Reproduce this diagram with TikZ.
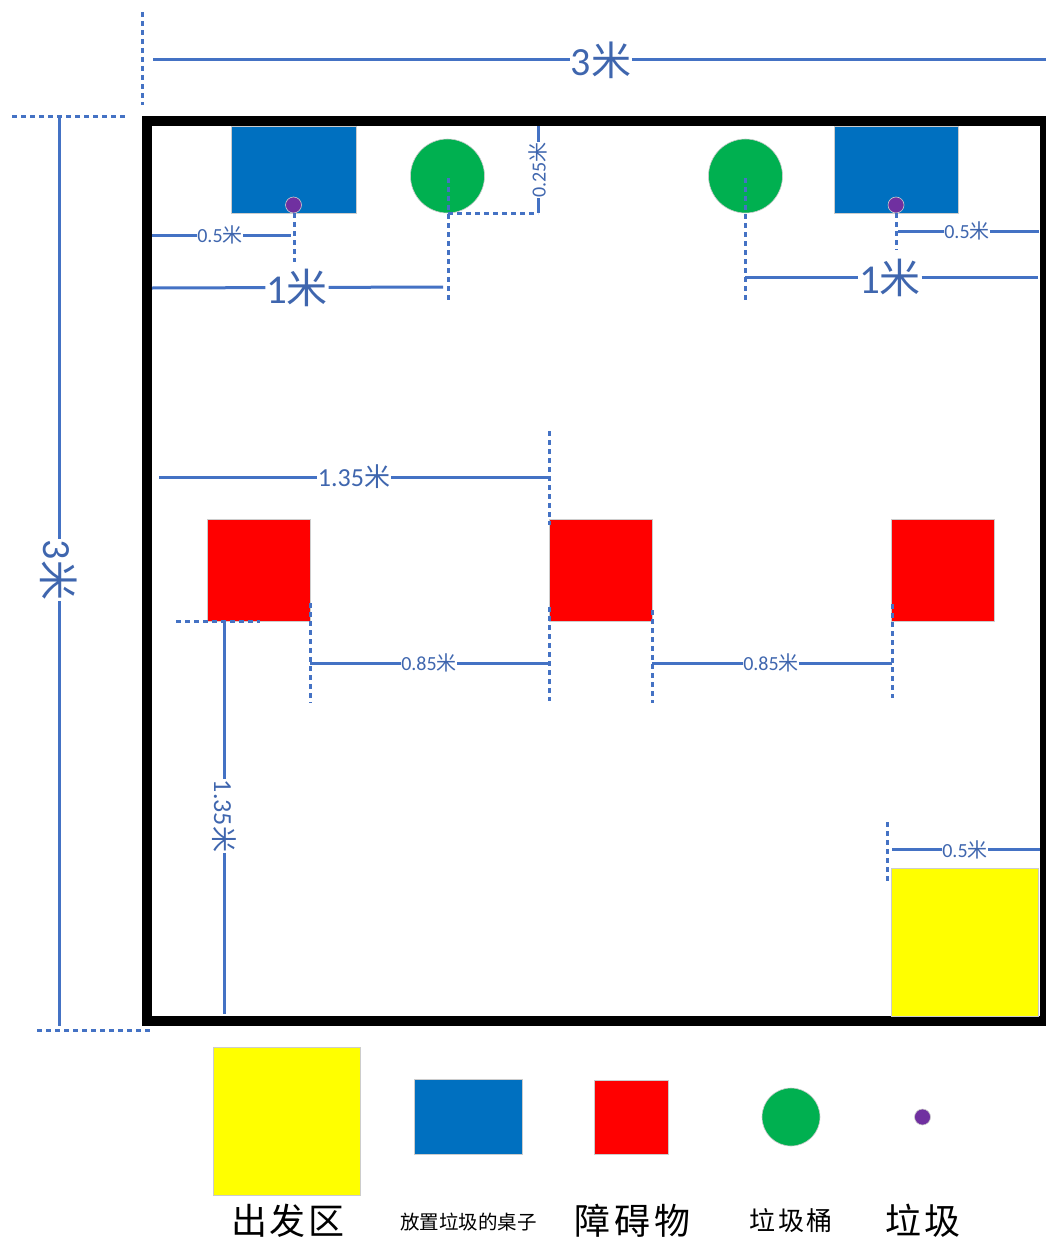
\documentclass[tikz,border=0pt]{standalone}
\usepackage{fontspec}
\setmainfont{Carlito}
\newfontfamily\cjk{Noto Sans CJK SC}
\newcommand{\mi}{{\cjk 米}}
\definecolor{dimblue}{HTML}{4472C4}
\definecolor{dimtext}{HTML}{3F66AE}
\definecolor{tableblue}{HTML}{0070C0}
\definecolor{binggreen}{HTML}{00B050}
\definecolor{trashpurple}{HTML}{7030A0}
\definecolor{zoneyellow}{RGB}{255,255,0}
\definecolor{obstaclered}{RGB}{255,0,0}
\tikzset{
  dimline/.style={draw=dimblue,line width=3pt},
  dimdash/.style={draw=dimblue,line width=3pt,dash pattern=on 5pt off 4pt},
  lab/.style={text=dimtext,inner sep=0.5pt,font=\fontsize{#1}{#1}\selectfont},
  legend/.style={text=black,inner sep=0pt,font=\cjk\fontsize{#1}{#1}\selectfont},
  shp/.style={draw=black!20,line width=0.6pt},
  yellowzone/.style={shp,fill=zoneyellow},
  tablebox/.style={shp,fill=tableblue},
  obstacle/.style={shp,fill=obstaclered},
  bin/.style={shp,fill=binggreen},
  trash/.style={shp,fill=trashpurple}
}
\begin{document}
\begin{tikzpicture}[x=1pt,y=-1pt]
\useasboundingbox (0,0) rectangle (1046,1239);
% frame
\node[draw=black,line width=10pt,minimum width=898pt,minimum height=900.5pt,inner sep=0pt,anchor=north west] (frame) at (142,115.5) {};
% shapes
\path[tablebox] (231,126) rectangle (356.5,213);
\path[tablebox] (834,126) rectangle (958.5,213);
\path[bin] (447.5,176) circle (37);
\path[bin] (745.5,176) circle (37);
\path[trash] (293.5,205) circle (8);
\path[trash] (896,205) circle (8);
\path[obstacle] (207.5,519) rectangle (310,621);
\path[obstacle] (549.5,519) rectangle (652,621);
\path[obstacle] (891.5,519) rectangle (994,621);
\path[yellowzone] (891,868) rectangle (1038.5,1016);
% legend
\path[yellowzone] (213,1047) rectangle (360.5,1195);
\path[tablebox] (414,1079) rectangle (522,1154);
\path[obstacle] (594,1080) rectangle (668,1154);
\path[bin] (791,1117) circle (29);
\path[trash] (922.5,1117) circle (8);
\node[legend=36] (t1) at (288,1221) {出\hspace{3pt}发\hspace{3pt}区};
\node[legend=19.5] (t2) at (468.5,1222) {放置垃圾的桌子};
\node[legend=36] (t3) at (632.5,1221) {障\hspace{4pt}碍\hspace{4pt}物};
\node[legend=26] (t4) at (791,1221) {垃\hspace{3pt}圾\hspace{3pt}桶};
\node[legend=36] (t5) at (923,1221) {垃\hspace{3pt}圾};
% outer dimensions
\coordinate (a1) at (153,60); \coordinate (a2) at (1046,60);
\node[lab=40] (l3a) at (601,60) {3\mi};
\draw[dimline] (a1) -- (l3a); \draw[dimline] (l3a) -- (a2);
\coordinate (d1) at (142,12); \coordinate (d2) at (142,105);
\draw[dimdash] (d1) -- (d2);
\coordinate (d3) at (12,116); \coordinate (d4) at (126,116);
\draw[dimdash] (d3) -- (d4);
\coordinate (d5) at (37,1030.5); \coordinate (d6) at (150,1030.5);
\draw[dimdash] (d5) -- (d6);
\coordinate (b1) at (59,116); \coordinate (b2) at (59,1026);
\node[lab=40,rotate=-90] (l3b) at (59,570) {3\mi};
\draw[dimline] (b1) -- (l3b); \draw[dimline] (l3b) -- (b2);
% top left
\coordinate (c1) at (152,235); \coordinate (c2) at (291,235);
\node[lab=20] (l05a) at (220,235) {0.5\mi};
\draw[dimline] (c1) -- (l05a); \draw[dimline] (l05a) -- (c2);
\coordinate (d7) at (294.5,213); \coordinate (d8) at (294.5,262);
\draw[dimdash] (d7) -- (d8);
\coordinate (e1) at (152,288); \coordinate (e2) at (443,287);
\node[lab=41] (l1a) at (297,287.5) {1\mi};
\draw[dimline] (e1) -- (l1a); \draw[dimline] (l1a) -- (e2);
\coordinate (d9) at (448,178); \coordinate (d10) at (448,302);
\draw[dimdash] (d9) -- (d10);
\coordinate (f1) at (538,126); \coordinate (f2) at (538,213);
\node[lab=20,rotate=90] (l025) at (538,170) {0.25\mi};
\draw[dimline] (f1) -- (l025); \draw[dimline] (l025) -- (f2);
\coordinate (d11) at (448,213); \coordinate (d12) at (538,213);
\draw[dimdash] (d11) -- (d12);
% top right
\coordinate (d13) at (745,178); \coordinate (d14) at (745,302);
\draw[dimdash] (d13) -- (d14);
\coordinate (g1) at (745,277.5); \coordinate (g2) at (1038,277.5);
\node[lab=41] (l1b) at (890,277.5) {1\mi};
\draw[dimline] (g1) -- (l1b); \draw[dimline] (l1b) -- (g2);
\coordinate (d15) at (896.5,213); \coordinate (d16) at (896.5,250);
\draw[dimdash] (d15) -- (d16);
\coordinate (h1) at (898,231); \coordinate (h2) at (1039,231);
\node[lab=20] (l05b) at (967,231) {0.5\mi};
\draw[dimline] (h1) -- (l05b); \draw[dimline] (l05b) -- (h2);
% middle
\coordinate (i1) at (159,477); \coordinate (i2) at (549,477);
\node[lab=26] (l135a) at (354,477) {1.35\mi};
\draw[dimline] (i1) -- (l135a); \draw[dimline] (l135a) -- (i2);
\coordinate (d17) at (549,431); \coordinate (d18) at (549,525);
\draw[dimdash] (d17) -- (d18);
\coordinate (d19) at (176,621.5); \coordinate (d20) at (260,621.5);
\draw[dimdash] (d19) -- (d20);
\coordinate (j1) at (224,621); \coordinate (j2) at (224,1014);
\node[lab=26,rotate=-90] (l135b) at (224,816) {1.35\mi};
\draw[dimline] (j1) -- (l135b); \draw[dimline] (l135b) -- (j2);
\coordinate (d21) at (310,603); \coordinate (d22) at (310,703);
\draw[dimdash] (d21) -- (d22);
\coordinate (d23) at (549,607); \coordinate (d24) at (549,701);
\draw[dimdash] (d23) -- (d24);
\coordinate (d25) at (652,610); \coordinate (d26) at (652,703);
\draw[dimdash] (d25) -- (d26);
\coordinate (d27) at (892,604); \coordinate (d28) at (892,698);
\draw[dimdash] (d27) -- (d28);
\coordinate (k1) at (310,663); \coordinate (k2) at (550,663);
\node[lab=20] (l085a) at (429,663) {0.85\mi};
\draw[dimline] (k1) -- (l085a); \draw[dimline] (l085a) -- (k2);
\coordinate (m1) at (652,663); \coordinate (m2) at (892,663);
\node[lab=20] (l085b) at (771,663) {0.85\mi};
\draw[dimline] (m1) -- (l085b); \draw[dimline] (l085b) -- (m2);
% start zone
\coordinate (d29) at (887,822); \coordinate (d30) at (887,884);
\draw[dimdash] (d29) -- (d30);
\coordinate (n1) at (892,849.5); \coordinate (n2) at (1040,849.5);
\node[lab=20] (l05c) at (965,849.5) {0.5\mi};
\draw[dimline] (n1) -- (l05c); \draw[dimline] (l05c) -- (n2);
\end{tikzpicture}
\end{document}
